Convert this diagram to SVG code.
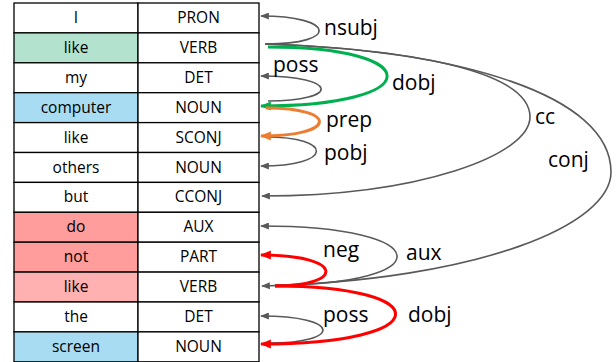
<svg xmlns="http://www.w3.org/2000/svg" width="616" height="362" viewBox="0 0 616 362">
  <style>
    .cell { stroke: #000; stroke-width: 1.3; }
    .w { fill: #ffffff; }
    .green { fill: #b3e2cf; }
    .blue { fill: #a8dcf2; }
    .red { fill: #ff9c9c; }
    .pink { fill: #ffb0b0; }
    .t { font-family: "Open Sans", "Liberation Sans", sans-serif; font-size: 15.5px; fill: #000; text-anchor: middle; }
    .lbl { font-family: "Open Sans", "Liberation Sans", sans-serif; font-size: 21px; fill: #000; }
    .arc { fill: none; stroke: #595959; stroke-width: 1.6; marker-end: url(#hGray); }
    .arcG { fill: none; stroke: #00b050; stroke-width: 3; marker-end: url(#hGreen); }
    .arcO { fill: none; stroke: #ed7d31; stroke-width: 3; marker-end: url(#hOrange); }
    .arcR { fill: none; stroke: #ff0000; stroke-width: 3; marker-end: url(#hRed); }
  </style>
  <defs>
    <marker id="hGray" viewBox="0 0 10 8" refX="9" refY="4" markerWidth="9" markerHeight="7" markerUnits="userSpaceOnUse" orient="auto">
      <path d="M0,0 L10,4 L0,8 z" fill="#595959"/>
    </marker>
    <marker id="hGreen" viewBox="0 0 10 8" refX="9" refY="4" markerWidth="11" markerHeight="10" markerUnits="userSpaceOnUse" orient="auto">
      <path d="M0,0 L10,4 L0,8 z" fill="#00b050"/>
    </marker>
    <marker id="hOrange" viewBox="0 0 10 8" refX="9" refY="4" markerWidth="11" markerHeight="10" markerUnits="userSpaceOnUse" orient="auto">
      <path d="M0,0 L10,4 L0,8 z" fill="#ed7d31"/>
    </marker>
    <marker id="hRed" viewBox="0 0 10 8" refX="9" refY="4" markerWidth="11" markerHeight="10" markerUnits="userSpaceOnUse" orient="auto">
      <path d="M0,0 L10,4 L0,8 z" fill="#ff0000"/>
    </marker>
  </defs>

  <!-- token rows: word cell, POS cell -->
  <g id="tok0"><rect class="cell w" x="14" y="3" width="124" height="29.9"/><rect class="cell w" x="138" y="3" width="121" height="29.9"/>
    <text class="t" x="76" y="23">I</text><text class="t" x="198.5" y="23">PRON</text></g>
  <g id="tok1"><rect class="cell green" x="14" y="32.9" width="124" height="29.9"/><rect class="cell w" x="138" y="32.9" width="121" height="29.9"/>
    <text class="t" x="76" y="52.9">like</text><text class="t" x="198.5" y="52.9">VERB</text></g>
  <g id="tok2"><rect class="cell w" x="14" y="62.8" width="124" height="29.9"/><rect class="cell w" x="138" y="62.8" width="121" height="29.9"/>
    <text class="t" x="76" y="82.8">my</text><text class="t" x="198.5" y="82.8">DET</text></g>
  <g id="tok3"><rect class="cell blue" x="14" y="92.7" width="124" height="29.9"/><rect class="cell w" x="138" y="92.7" width="121" height="29.9"/>
    <text class="t" x="76" y="112.7">computer</text><text class="t" x="198.5" y="112.7">NOUN</text></g>
  <g id="tok4"><rect class="cell w" x="14" y="122.6" width="124" height="29.9"/><rect class="cell w" x="138" y="122.6" width="121" height="29.9"/>
    <text class="t" x="76" y="142.6">like</text><text class="t" x="198.5" y="142.6">SCONJ</text></g>
  <g id="tok5"><rect class="cell w" x="14" y="152.5" width="124" height="29.9"/><rect class="cell w" x="138" y="152.5" width="121" height="29.9"/>
    <text class="t" x="76" y="172.5">others</text><text class="t" x="198.5" y="172.5">NOUN</text></g>
  <g id="tok6"><rect class="cell w" x="14" y="182.4" width="124" height="29.9"/><rect class="cell w" x="138" y="182.4" width="121" height="29.9"/>
    <text class="t" x="76" y="202.4">but</text><text class="t" x="198.5" y="202.4">CCONJ</text></g>
  <g id="tok7"><rect class="cell red" x="14" y="212.3" width="124" height="29.9"/><rect class="cell w" x="138" y="212.3" width="121" height="29.9"/>
    <text class="t" x="76" y="232.3">do</text><text class="t" x="198.5" y="232.3">AUX</text></g>
  <g id="tok8"><rect class="cell red" x="14" y="242.2" width="124" height="29.9"/><rect class="cell w" x="138" y="242.2" width="121" height="29.9"/>
    <text class="t" x="76" y="262.2">not</text><text class="t" x="198.5" y="262.2">PART</text></g>
  <g id="tok9"><rect class="cell pink" x="14" y="272.1" width="124" height="29.9"/><rect class="cell w" x="138" y="272.1" width="121" height="29.9"/>
    <text class="t" x="76" y="292.1">like</text><text class="t" x="198.5" y="292.1">VERB</text></g>
  <g id="tok10"><rect class="cell w" x="14" y="302" width="124" height="29.9"/><rect class="cell w" x="138" y="302" width="121" height="29.9"/>
    <text class="t" x="76" y="322">the</text><text class="t" x="198.5" y="322">DET</text></g>
  <g id="tok11"><rect class="cell blue" x="14" y="331.9" width="124" height="29.9"/><rect class="cell w" x="138" y="331.9" width="121" height="29.9"/>
    <text class="t" x="76" y="351.9">screen</text><text class="t" x="198.5" y="351.9">NOUN</text></g>

  <!-- dependency arcs -->
  <g id="edges">
    <path class="arc" d="M265,44 C430,50 530,75 530,117 C530,155 420,196 262,196"/>
    <path class="arc" d="M265,44 C460,50 611,95 611,172 C611,225 480,280 262,286"/>
    <path class="arc" d="M266,44 C340,44 335,16 261,16"/>
    <path class="arc" d="M268,101 C340,101 340,76 261,76"/>
    <path class="arc" d="M266,137 C334,137 334,166 261,166"/>
    <path class="arc" d="M275,285 C440,285 440,226 261,226"/>
    <path class="arc" d="M270,343 C342,343 342,316 261,316"/>
    <path class="arcG" d="M268,47 C428,47 428,106 261,106"/>
    <path class="arcO" d="M266,108 C338,108 338,136 261,136"/>
    <path class="arcR" d="M275,286 C345,286 345,255 261,255"/>
    <path class="arcR" d="M275,286 C438,286 438,344 261,344"/>

    <text class="lbl" x="324" y="35">nsubj</text>
    <text class="lbl" x="273" y="72">poss</text>
    <text class="lbl" x="392" y="90">dobj</text>
    <text class="lbl" x="326" y="127">prep</text>
    <text class="lbl" x="324" y="160">pobj</text>
    <text class="lbl" x="535" y="124">cc</text>
    <text class="lbl" x="548" y="167">conj</text>
    <text class="lbl" x="323" y="257">neg</text>
    <text class="lbl" x="406" y="260">aux</text>
    <text class="lbl" x="323" y="322">poss</text>
    <text class="lbl" x="408" y="322">dobj</text>
  </g>
</svg>
